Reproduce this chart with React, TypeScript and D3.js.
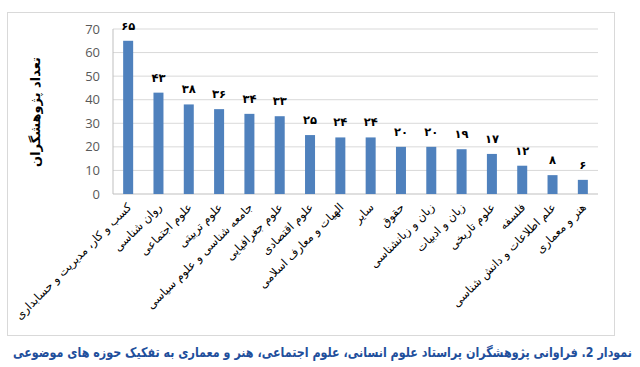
import { useRef, useLayoutEffect, useState } from "react";
import * as d3 from "d3";

const categories = [
  "کسب و کار، مدیریت و حسابداری",
  "روان شناسی",
  "علوم اجتماعی",
  "علوم تربیتی",
  "جامعه شناسی و علوم سیاسی",
  "علوم جغرافیایی",
  "علوم اقتصادی",
  "الهیات و معارف اسلامی",
  "سایر",
  "حقوق",
  "زبان و زبانشناسی",
  "زبان و ادبیات",
  "علوم تاریخی",
  "فلسفه",
  "علم اطلاعات و دانش شناسی",
  "هنر و معماری",
];
const values = [65, 43, 38, 36, 34, 33, 25, 24, 24, 20, 20, 19, 17, 12, 8, 6];
const yTicks = [0, 10, 20, 30, 40, 50, 60, 70];

const yTitle = "تعداد پژوهشگران";
const caption =
  "نمودار 2. فراوانی پژوهشگران پراستاد علوم انسانی، علوم اجتماعی، هنر و معماری به تفکیک حوزه های موضوعی";

const faDigits = "۰۱۲۳۴۵۶۷۸۹";
const toFa = (n: number) => String(n).replace(/\d/g, (d) => faDigits[+d]);

const W = 640;
const H = 367;
const persianFont = "'DejaVu Sans', sans-serif";

export default function App() {
  const captionRef = useRef<SVGTextElement | null>(null);
  const [capScale, setCapScale] = useState(1);

  // squeeze the caption horizontally so it fits the 620px the original uses
  useLayoutEffect(() => {
    if (!captionRef.current) return;
    const len = captionRef.current.getComputedTextLength();
    if (len > 0) setCapScale(Math.min(1, 620 / len));
  }, []);

  const x = d3
    .scaleBand<string>()
    .domain(categories)
    .range([113, 598])
    .paddingInner(0.67)
    .paddingOuter(0.335);
  const y = d3.scaleLinear().domain([0, 70]).range([194, 29]);

  return (
    <svg
      width={W}
      height={H}
      style={{ position: "absolute", left: 0, top: 0, background: "#fff" }}
    >
      <rect x={7.5} y={12.5} width={607} height={323} fill="#fff" stroke="#d9d9d9" />

      {yTicks.map((t) => (
        <g key={t}>
          {t > 0 && (
            <line x1={113} x2={598} y1={y(t)} y2={y(t)} stroke="#d9d9d9" strokeWidth={1} />
          )}
          <text
            x={100}
            y={y(t)}
            dy="0.35em"
            textAnchor="end"
            fontFamily="'Open Sans', sans-serif"
            fontSize={13}
            fill="#595959"
          >
            {t}
          </text>
        </g>
      ))}

      <line x1={113} x2={113} y1={y(70)} y2={y(0)} stroke="#bfbfbf" />
      <line x1={113} x2={598} y1={y(0)} y2={y(0)} stroke="#bfbfbf" />

      {categories.map((c, i) => {
        const cx = (x(c) ?? 0) + x.bandwidth() / 2;
        return (
          <g key={c}>
            <rect
              x={x(c)}
              y={y(values[i])}
              width={x.bandwidth()}
              height={y(0) - y(values[i])}
              fill="#4f81bd"
            />
            <text
              x={cx}
              y={y(values[i]) - 11}
              textAnchor="middle"
              fontFamily={persianFont}
              fontWeight="bold"
              fontSize={11.5}
              fill="#000"
            >
              {toFa(values[i])}
            </text>
            <text
              transform={`translate(${cx + 4},${y(0) + 14}) rotate(-45)`}
              textAnchor="end"
              fontFamily={persianFont}
              fontSize={11.5}
              fill="#000"
            >
              {c}
            </text>
          </g>
        );
      })}

      <text
        transform="translate(40,112) rotate(-90)"
        textAnchor="middle"
        fontFamily={persianFont}
        fontWeight="bold"
        fontSize={13}
        fill="#000"
      >
        {yTitle}
      </text>

      <g transform={`translate(632,357) scale(${capScale},1)`}>
        <text
          ref={captionRef}
          x={0}
          y={0}
          direction="rtl"
          style={{ direction: "rtl", unicodeBidi: "embed" }}
          textAnchor="start"
          fontFamily={persianFont}
          fontWeight="bold"
          fontSize={13.5}
          fill="#1f4f9c"
        >
          {caption}
        </text>
      </g>
    </svg>
  );
}
